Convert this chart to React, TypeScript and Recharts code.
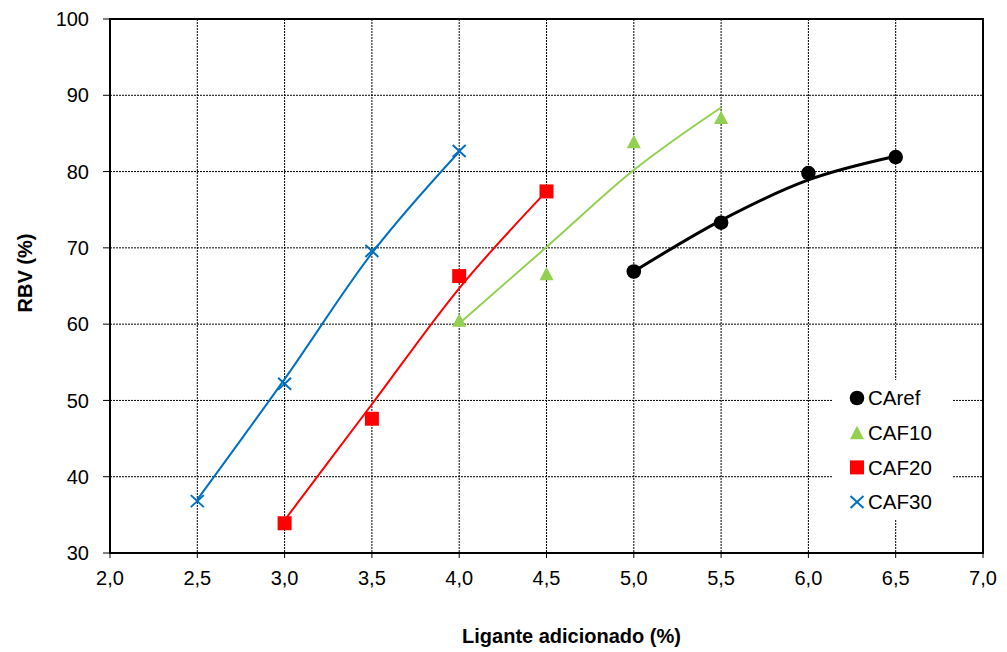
import {
    ComposedChart,
    CartesianGrid,
    Legend,
    Line,
    ReferenceArea,
    Scatter,
    XAxis,
    YAxis
} from "recharts";

const caRef = [
    { x: 5.0, y: 66.9 },
    { x: 5.5, y: 73.3 },
    { x: 6.0, y: 79.8 },
    { x: 6.5, y: 81.9 }
];
const caf10 = [
    { x: 4.0, y: 60.5 },
    { x: 4.5, y: 66.6 },
    { x: 5.0, y: 83.9 },
    { x: 5.5, y: 87.1 }
];
const caf20 = [
    { x: 3.0, y: 33.9 },
    { x: 3.5, y: 47.6 },
    { x: 4.0, y: 66.3 },
    { x: 4.5, y: 77.4 }
];
const caf30 = [
    { x: 2.5, y: 36.8 },
    { x: 3.0, y: 52.2 },
    { x: 3.5, y: 69.6 },
    { x: 4.0, y: 82.7 }
];

// linhas de tendência (lidas ao longo das curvas)
const caRefTrend = [
    { x: 5.0, y: 66.9 },
    { x: 5.5, y: 73.6 },
    { x: 6.0, y: 78.9 },
    { x: 6.5, y: 82.0 }
];
const caf10Trend = [
    { x: 4.0, y: 60.1 },
    { x: 4.5, y: 70.1 },
    { x: 5.0, y: 80.2 },
    { x: 5.5, y: 88.4 }
];
const caf20Trend = [
    { x: 3.0, y: 34.3 },
    { x: 3.5, y: 49.5 },
    { x: 4.0, y: 64.7 },
    { x: 4.5, y: 77.4 }
];
const caf30Trend = [
    { x: 2.5, y: 37.0 },
    { x: 3.0, y: 52.8 },
    { x: 3.5, y: 69.3 },
    { x: 4.0, y: 82.6 }
];

const xTicks = [2.0, 2.5, 3.0, 3.5, 4.0, 4.5, 5.0, 5.5, 6.0, 6.5, 7.0];
const yTicks = [30, 40, 50, 60, 70, 80, 90, 100];

const FONT = "'Liberation Sans', Arial, sans-serif";
const BLACK = "#000000";
const GREEN = "#92D050";
const RED = "#FF0000";
const BLUE = "#0070C0";

type MarkProps = { cx?: number; cy?: number };

const DotMark = ({ cx = 0, cy = 0 }: MarkProps) => <circle cx={cx} cy={cy} r={7.3} fill={BLACK} />;

const TriangleMark = ({ cx = 0, cy = 0 }: MarkProps) => (
    <polygon points={`${cx},${cy - 7} ${cx + 7},${cy + 6.5} ${cx - 7},${cy + 6.5}`} fill={GREEN} />
);

const SquareMark = ({ cx = 0, cy = 0 }: MarkProps) => <rect x={cx - 7} y={cy - 7} width={14} height={14} fill={RED} />;

const CrossMark = ({ cx = 0, cy = 0 }: MarkProps) => (
    <g stroke={BLUE} strokeWidth={2}>
        <line x1={cx - 6.5} y1={cy - 6} x2={cx + 6.5} y2={cy + 6} />
        <line x1={cx - 6.5} y1={cy + 6} x2={cx + 6.5} y2={cy - 6} />
    </g>
);

const series = [
    { name: "CAref", Mark: DotMark },
    { name: "CAF10", Mark: TriangleMark },
    { name: "CAF20", Mark: SquareMark },
    { name: "CAF30", Mark: CrossMark }
];

function LegendBox() {
    return (
        <svg width={120} height={140} style={{ display: "block" }}>
            {series.map((s, i) => {
                const cy = 18 + i * 34.7;
                return (
                    <g key={s.name}>
                        <s.Mark cx={25} cy={cy} />
                        <text x={36} y={cy + 7.3} fontFamily={FONT} fontSize={20.5} fill="#000">
                            {s.name}
                        </text>
                    </g>
                );
            })}
        </svg>
    );
}

const fmtX = (v: number) => v.toFixed(1).replace(".", ",");

export default function App() {
    return (
        <div style={{ position: "absolute", left: 0, top: 0, background: "#fff" }}>
            <ComposedChart width={1007} height={652} margin={{ top: 19, right: 24, left: 0, bottom: 0 }}>
                <CartesianGrid stroke="#000" strokeDasharray="2 1" strokeWidth={1} />
                <XAxis
                    type="number"
                    dataKey="x"
                    domain={[2, 7]}
                    ticks={xTicks}
                    interval={0}
                    tickFormatter={fmtX}
                    height={99}
                    tickSize={5}
                    tickMargin={13}
                    axisLine={{ stroke: "#000", strokeWidth: 2 }}
                    tickLine={{ stroke: "#000" }}
                    tick={{ fill: "#000", fontSize: 20, fontFamily: FONT }}
                    label={{
                        content: () => (
                            <text x={571.5} y={643} textAnchor="middle" fontFamily={FONT} fontSize={20} fontWeight="bold" fill="#000">
                                Ligante adicionado (%)
                            </text>
                        )
                    }}
                />
                <YAxis
                    type="number"
                    dataKey="y"
                    domain={[30, 100]}
                    ticks={yTicks}
                    interval={0}
                    width={110}
                    tickSize={7}
                    tickMargin={14}
                    axisLine={{ stroke: "#000", strokeWidth: 2 }}
                    tickLine={{ stroke: "#000" }}
                    tick={{ fill: "#000", fontSize: 20, fontFamily: FONT }}
                    label={{
                        content: () => (
                            <text
                                x={0}
                                y={0}
                                transform="translate(32,273) rotate(-90)"
                                textAnchor="middle"
                                fontFamily={FONT}
                                fontSize={20}
                                fontWeight="bold"
                                fill="#000"
                            >
                                RBV (%)
                            </text>
                        )
                    }}
                />
                <ReferenceArea x1={2} x2={7} y1={30} y2={100} fill="none" stroke="#000" strokeWidth={2} ifOverflow="visible" />
                <Legend
                    layout="vertical"
                    align="center"
                    verticalAlign="middle"
                    content={() => <LegendBox />}
                    wrapperStyle={{ position: "absolute", left: 832, top: 380, width: 120, height: 140, background: "#fff" }}
                />

                <Line data={caRefTrend} dataKey="y" type="monotone" stroke={BLACK} strokeWidth={3} dot={false} activeDot={false} legendType="none" isAnimationActive={false} />
                <Line data={caf10Trend} dataKey="y" type="monotone" stroke={GREEN} strokeWidth={2} dot={false} activeDot={false} legendType="none" isAnimationActive={false} />
                <Line data={caf20Trend} dataKey="y" type="monotone" stroke={RED} strokeWidth={2} dot={false} activeDot={false} legendType="none" isAnimationActive={false} />
                <Line data={caf30Trend} dataKey="y" type="monotone" stroke={BLUE} strokeWidth={2} dot={false} activeDot={false} legendType="none" isAnimationActive={false} />

                <Scatter name="CAref" data={caRef} dataKey="y" shape={DotMark} isAnimationActive={false} />
                <Scatter name="CAF10" data={caf10} dataKey="y" shape={TriangleMark} isAnimationActive={false} />
                <Scatter name="CAF20" data={caf20} dataKey="y" shape={SquareMark} isAnimationActive={false} />
                <Scatter name="CAF30" data={caf30} dataKey="y" shape={CrossMark} isAnimationActive={false} />
            </ComposedChart>
        </div>
    );
}
